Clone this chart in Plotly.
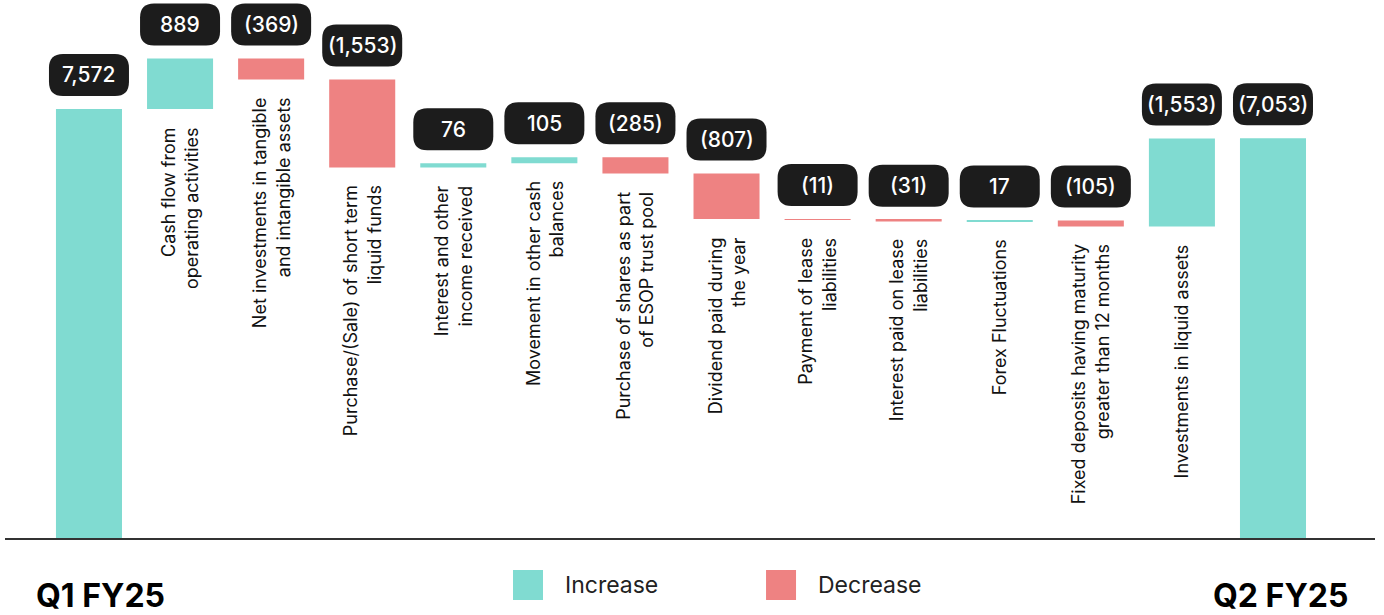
import plotly.graph_objects as go

# ---- data ----
categories = [
    "Q1 FY25",
    "Cash flow from<br>operating activities",
    "Net investments in tangible<br>and intangible assets",
    "Purchase/(Sale) of short term<br>liquid funds",
    "Interest and other<br>income received",
    "Movement in other cash<br>balances",
    "Purchase of shares as part<br>of ESOP trust pool",
    "Dividend paid during<br>the year",
    "Payment of lease<br>liabilities",
    "Interest paid on lease<br>liabilities",
    "Forex Fluctuations",
    "Fixed deposits having maturity<br>greater than 12 months",
    "Investments in liquid assets",
    "Q2 FY25",
]
measures = ["absolute", "relative", "relative", "relative", "relative", "relative", "relative",
            "relative", "relative", "relative", "relative", "relative", "relative", "absolute"]
values = [7572, 889, -369, -1553, 76, 105, -285, -807, -11, -31, 17, -105, 1553, 7053]
value_labels = ["7,572", "889", "(369)", "(1,553)", "76", "105", "(285)", "(807)",
                "(11)", "(31)", "17", "(105)", "(1,553)", "(7,053)"]
legend_names = ["Increase", "Decrease"]

TEAL = "#80DBD1"
RED = "#EE8282"
DARK = "#1C1C1C"
FONT = "Inter"

x = list(range(len(categories)))

# compute bar extents (for label placement)
tops, bottoms = [], []
level = 0
for m, v in zip(measures, values):
    if m == "absolute":
        start, end = 0, v
        level = v
    else:
        start, end = level, level + v
        level = end
    tops.append(max(start, end))
    bottoms.append(min(start, end))

fig = go.Figure()
fig.add_trace(go.Waterfall(
    x=x, y=values, measure=measures,
    width=[0.725] * len(x),
    increasing=dict(marker=dict(color=TEAL)),
    decreasing=dict(marker=dict(color=RED)),
    totals=dict(marker=dict(color=TEAL)),
    connector=dict(visible=False),
    textposition="none",
    showlegend=False,
    hoverinfo="skip",
))

shapes = []
annotations = []
W, H, R, GAP = 80, 42, 14, 13
for i in x:
    # rounded label box (pixel-sized, anchored to bar top)
    x0, x1 = -W / 2, W / 2
    y0, y1 = GAP, GAP + H
    path = (f"M{x0 + R},{y0} L{x1 - R},{y0} Q{x1},{y0} {x1},{y0 + R} "
            f"L{x1},{y1 - R} Q{x1},{y1} {x1 - R},{y1} L{x0 + R},{y1} "
            f"Q{x0},{y1} {x0},{y1 - R} L{x0},{y0 + R} Q{x0},{y0} {x0 + R},{y0} Z")
    shapes.append(dict(type="path", xref="x", yref="y", xsizemode="pixel", ysizemode="pixel",
                       xanchor=i, yanchor=tops[i], path=path,
                       fillcolor=DARK, line=dict(width=0), layer="above"))
    annotations.append(dict(x=i, y=tops[i], xref="x", yref="y", text=value_labels[i],
                            showarrow=False, yanchor="middle", xanchor="center",
                            yshift=GAP + H / 2,
                            font=dict(family=FONT, size=21, color="white", weight=500)))
    if 0 < i < len(x) - 1:
        annotations.append(dict(x=i, y=bottoms[i], xref="x", yref="y", text=categories[i],
                                showarrow=False, textangle=-90, align="right",
                                xanchor="center", yanchor="top", yshift=-16,
                                font=dict(family=FONT, size=18, color="#111111")))

# bottom period labels
for i, xs in [(0, 12), (len(x) - 1, 8)]:
    annotations.append(dict(x=i, y=0, xref="x", yref="paper", text=categories[i],
                            showarrow=False, yanchor="top", xanchor="center",
                            yshift=-36, xshift=xs,
                            font=dict(family=FONT, size=32, color="#000000", weight=700)))

# manual legend
for (sx0, sx1, tx), name, col in zip([(0.3708, 0.3927, 0.4073), (0.5555, 0.5774, 0.5920)],
                                     legend_names, [TEAL, RED]):
    shapes.append(dict(type="rect", xref="paper", yref="paper", x0=sx0, x1=sx1,
                       y0=-0.1152, y1=-0.0595, fillcolor=col, line=dict(width=0)))
    annotations.append(dict(x=tx, y=-0.0874, xref="paper", yref="paper", text=name,
                            showarrow=False, xanchor="left", yanchor="middle",
                            font=dict(family=FONT, size=23, color="#222222")))

fig.update_layout(
    width=1384, height=615,
    margin=dict(l=5, r=9, t=0, b=77),
    paper_bgcolor="white", plot_bgcolor="white",
    xaxis=dict(range=[-0.922, 14.12], showgrid=False, zeroline=False,
               showticklabels=False, ticks="", showline=True,
               linecolor="#333333", linewidth=2, fixedrange=True),
    yaxis=dict(range=[0, 9495], showgrid=False, zeroline=False,
               showticklabels=False, ticks="", showline=False, fixedrange=True),
    shapes=shapes,
    annotations=annotations,
    showlegend=False,
    font=dict(family=FONT),
)

fig.write_html("out.html")
